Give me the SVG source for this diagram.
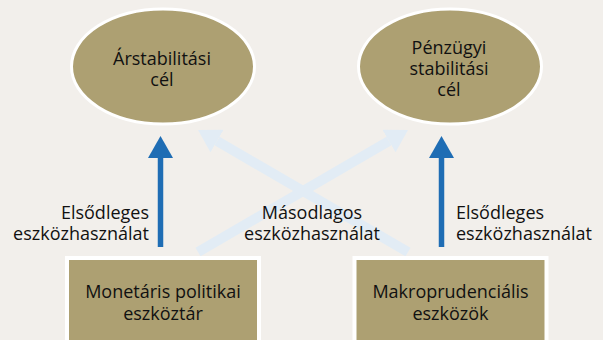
<svg xmlns="http://www.w3.org/2000/svg" width="603" height="340" viewBox="0 0 603 340">
<defs>
<style>
.bg{fill:#f2efeb}
.goal{fill:#ada072;stroke:#ffffff;stroke-width:3}
.tool{fill:#ada072;stroke:#ffffff;stroke-width:4}
.t{font-family:"Open Sans","Noto Sans",sans-serif;font-size:18px;fill:#111111}
.c{text-anchor:middle}
.r{text-anchor:end}
.s{text-anchor:start}
.prim{stroke:#1f6db4;stroke-width:5.5;fill:none}
.sec{stroke:#e2ecf5;stroke-width:10;fill:none}
</style>
<marker id="hPrim" markerUnits="userSpaceOnUse" viewBox="0 -12.5 22 25" refX="0" refY="0" markerWidth="22" markerHeight="25" orient="auto">
<path d="M0,-12.5 L22,0 L0,12.5 Z" fill="#1f6db4"/>
</marker>
<marker id="hSec" markerUnits="userSpaceOnUse" viewBox="0 -13 22 26" refX="0" refY="0" markerWidth="22" markerHeight="26" orient="auto">
<path d="M0,-13 L22,0 L0,13 Z" fill="#e2ecf5"/>
</marker>
</defs>
<rect class="bg" x="0" y="0" width="603" height="340"/>
<g id="connectors">
<line class="sec" x1="198" y1="252" x2="388.98" y2="141.05" marker-end="url(#hSec)"/>
<line class="sec" x1="408" y1="252" x2="217.02" y2="141.05" marker-end="url(#hSec)"/>
<line class="prim" x1="160.5" y1="247" x2="160.5" y2="158" marker-end="url(#hPrim)"/>
<line class="prim" x1="441.5" y1="247" x2="441.5" y2="158" marker-end="url(#hPrim)"/>
<text class="t r" x="149" y="219"><tspan x="149">Elsődleges</tspan><tspan x="149" dy="21">eszközhasználat</tspan></text>
<text class="t c" x="312" y="219"><tspan x="312">Másodlagos</tspan><tspan x="312" dy="21">eszközhasználat</tspan></text>
<text class="t s" x="456" y="219"><tspan x="456">Elsődleges</tspan><tspan x="456" dy="21">eszközhasználat</tspan></text>
</g>
<g id="goal-price">
<ellipse class="goal" cx="163" cy="66.5" rx="91.5" ry="57.5"/>
<text class="t c" x="162" y="65"><tspan x="162">Árstabilitási</tspan><tspan x="162" dy="21">cél</tspan></text>
</g>
<g id="goal-financial">
<ellipse class="goal" cx="450" cy="66.5" rx="91.5" ry="57.5"/>
<text class="t c" x="449" y="54"><tspan x="449">Pénzügyi</tspan><tspan x="449" dy="21">stabilitási</tspan><tspan x="449" dy="21">cél</tspan></text>
</g>
<g id="tool-monetary">
<rect class="tool" x="67" y="258" width="192" height="90"/>
<text class="t c" x="163" y="298"><tspan x="163">Monetáris politikai</tspan><tspan x="163" dy="22">eszköztár</tspan></text>
</g>
<g id="tool-macro">
<rect class="tool" x="354.5" y="258" width="192" height="90"/>
<text class="t c" x="450.5" y="298"><tspan x="450.5">Makroprudenciális</tspan><tspan x="450.5" dy="22">eszközök</tspan></text>
</g>
</svg>
